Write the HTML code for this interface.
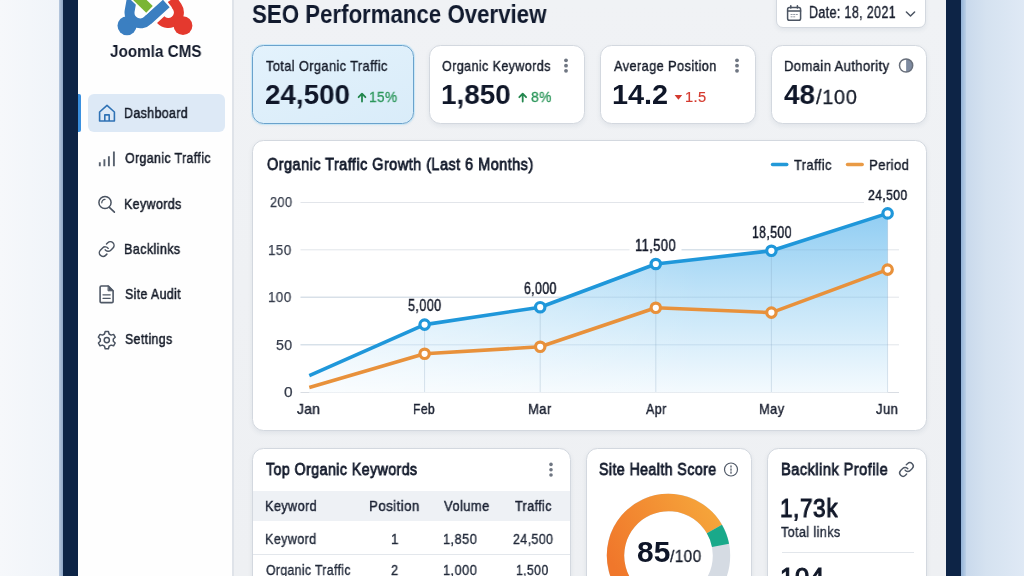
<!DOCTYPE html>
<html><head><meta charset="utf-8"><title>SEO Performance Overview</title>
<style>
html,body{margin:0;padding:0;}
body{width:1024px;height:576px;overflow:hidden;position:relative;font-family:"Liberation Sans",sans-serif;background:#eef3f9;}
.abs{position:absolute;}
.t{position:absolute;white-space:nowrap;line-height:1;transform-origin:0 0;will-change:transform;}
#bgl{left:0;top:0;width:59px;height:576px;background:linear-gradient(90deg,#f6f8fb,#f0f4f9);}
#stl{left:59px;top:0;width:4px;height:576px;background:linear-gradient(90deg,#b7c8de,#8ea6c6);}
#navl{left:63px;top:0;width:15px;height:576px;background:#0d2446;}
#side{left:78px;top:0;width:154px;height:576px;background:#fefefe;}
#sideb{left:232px;top:0;width:1.5px;height:576px;background:#dfe3e9;}
#content{left:233.5px;top:0;width:712.5px;height:576px;background:linear-gradient(180deg,#f0f2f5,#eef0f3);}
#navr{left:946px;top:0;width:15px;height:576px;background:#0d2446;}
#str{left:961px;top:0;width:4.5px;height:576px;background:linear-gradient(90deg,#93b2d6,#bcd0e7);}
#bgr{left:965.5px;top:0;width:58.5px;height:576px;background:linear-gradient(90deg,#c9d9ec,#d5e2f0 35%,#dfe9f5);}
#active{left:88px;top:94px;width:137px;height:37.5px;border-radius:6px;background:#dde9f6;}
#ind{left:78px;top:94px;width:3px;height:37.5px;background:#3a90df;border-radius:0 2px 2px 0;}
.card{position:absolute;background:#fff;border:1px solid #d3d8df;border-radius:11.5px;box-sizing:border-box;box-shadow:0 2px 5px rgba(30,50,90,0.07);}
#date{left:776px;top:-8px;width:150px;height:36px;border-radius:7px;}
#c1{left:252px;top:45px;width:161.5px;height:78.5px;background:linear-gradient(160deg,#e3f2fc,#d9ecf9);border:1.7px solid #6aa2cc;box-shadow:0 0 0 1px rgba(190,230,250,0.7),0 1px 3px rgba(30,50,90,0.07);}
#c2{left:429px;top:45px;width:155.5px;height:78.5px;}
#c3{left:600px;top:45px;width:156px;height:78.5px;}
#c4{left:771px;top:45px;width:156px;height:78.5px;}
#chart{left:252px;top:140px;width:675px;height:290.5px;}
#kw{left:252px;top:448px;width:318.5px;height:140px;}
#sh{left:586px;top:448px;width:165.5px;height:140px;}
#bl{left:767px;top:448px;width:160px;height:140px;}
#thead{left:253px;top:491px;width:316.5px;height:30px;background:#eef1f5;}
#rsep{left:253px;top:553.5px;width:316.5px;height:1px;background:#e3e7ec;}
#blsep{left:781.5px;top:552px;width:132px;height:1.2px;background:#e2e6eb;}
svg.ov{position:absolute;left:0;top:0;width:1024px;height:576px;overflow:visible;}

</style></head>
<body>
<div class="abs" id="bgl"></div><div class="abs" id="stl"></div><div class="abs" id="navl"></div>
<div class="abs" id="side"></div><div class="abs" id="sideb"></div><div class="abs" id="content"></div>
<div class="abs" id="navr"></div><div class="abs" id="str"></div><div class="abs" id="bgr"></div>
<div class="abs" id="active"></div><div class="abs" id="ind"></div>
<div class="card" id="date"></div>
<div class="card" id="c1"></div><div class="card" id="c2"></div><div class="card" id="c3"></div><div class="card" id="c4"></div>
<div class="card" id="chart"></div>
<div class="card" id="kw"></div><div class="card" id="sh"></div><div class="card" id="bl"></div>
<div class="abs" id="thead"></div><div class="abs" id="rsep"></div><div class="abs" id="blsep"></div>
<svg class="ov" viewBox="0 0 1024 576">
<defs>
<linearGradient id="fillg" x1="0" y1="205" x2="0" y2="392.5" gradientUnits="userSpaceOnUse">
<stop offset="0" stop-color="#8ccbf2"/><stop offset="0.5" stop-color="#c2e4f8"/><stop offset="1" stop-color="#f4fafe"/>
</linearGradient>
<linearGradient id="fadeg" x1="309" y1="0" x2="700" y2="0" gradientUnits="userSpaceOnUse">
<stop offset="0" stop-color="#fff" stop-opacity="0.55"/><stop offset="1" stop-color="#fff" stop-opacity="0"/>
</linearGradient>
<linearGradient id="ringg" x1="610" y1="560" x2="720" y2="500" gradientUnits="userSpaceOnUse">
<stop offset="0" stop-color="#f0772b"/><stop offset="1" stop-color="#f6a93c"/>
</linearGradient>
</defs>
<!-- logo -->
<g fill="none" stroke-linecap="butt">
 <path d="M171.9 -0.8 L177.1 6.58 A10.5 10.5 0 0 1 160.7 19.6" stroke="#e4392e" stroke-width="10"/>
 <circle cx="183" cy="25.7" r="9.4" fill="#e4392e"/>
 <path d="M131.8 -1.1 L129.7 10.7 A10.7 10.7 0 0 0 147.8 20.2 L167.5 2.4" stroke="#fff" stroke-width="13"/>
 <circle cx="127" cy="25.8" r="9.5" fill="#3b7fc1"/>
 <path d="M131.8 -1.1 L129.7 10.7 A10.7 10.7 0 0 0 147.8 20.2 L166.3 3.5" stroke="#3b7fc1" stroke-width="10"/>
 <path d="M135.1 -4.6 L150.6 10.3" stroke="#fff" stroke-width="12.4"/>
 <path d="M135.1 -4.6 L149.5 9.3" stroke="#7ab535" stroke-width="9.4"/>
</g>
<!-- sidebar icons -->
<g fill="none" stroke-linecap="round" stroke-linejoin="round">
 <path d="M99.6 112 L107 105.4 L114.4 112 V121 H99.6 Z M104.8 121 V114.9 H109.2 V121" stroke="#2f72b5" stroke-width="1.6"/>
 <path d="M99.8 162.2 V166.2 M104.4 159.2 V166.2 M108.9 156.3 V166.2 M113.9 151.5 V166.2" stroke="#59626f" stroke-width="1.9" stroke-linecap="butt"/>
 <circle cx="105" cy="202.5" r="6.1" stroke="#4a5361" stroke-width="1.5"/>
 <path d="M109.6 207.6 L114.4 212.2" stroke="#4a5361" stroke-width="1.6"/>
 <path d="M101.8 202.8 A3.3 3.3 0 0 1 105 199.4" stroke="#4a5361" stroke-width="1.2"/>
 <g transform="translate(97.8,240.2) scale(0.74)" stroke="#4a5361" stroke-width="2">
  <path d="M10 13a5 5 0 0 0 7.54.54l3-3a5 5 0 0 0-7.07-7.07l-1.72 1.71"/>
  <path d="M14 11a5 5 0 0 0-7.54-.54l-3 3a5 5 0 0 0 7.07 7.07l1.71-1.71"/>
 </g>
 <path d="M101.3 286 H108.4 L113.1 290.8 V301.4 Q113.1 302.6 111.9 302.6 H101.3 Q100.1 302.6 100.1 301.4 V287.2 Q100.1 286 101.3 286 Z" stroke="#4f5866" stroke-width="1.6"/>
 <path d="M108.4 286 L113.1 290.8 H108.4 Z" fill="#4f5866" stroke="#4f5866" stroke-width="1"/>
 <path d="M103 294.8 H110.2 M103 298.3 H110.2" stroke="#4f5866" stroke-width="1.3"/>
 <g transform="translate(106.8,339.6)" stroke="#4a5361" stroke-width="1.5">
  <path id="gear" d="M-1.6 -8.2 H1.6 L2.3 -5.6 L4.3 -4.5 L6.8 -5.2 L8.4 -2.4 L6.5 -0.6 V1.6 L8.4 3.4 L6.8 6.2 L4.3 5.5 L2.3 6.6 L1.6 9.2 H-1.6 L-2.3 6.6 L-4.3 5.5 L-6.8 6.2 L-8.4 3.4 L-6.5 1.6 V-0.6 L-8.4 -2.4 L-6.8 -5.2 L-4.3 -4.5 L-2.3 -5.6 Z"/>
  <circle cx="0" cy="0.5" r="2.6"/>
 </g>
</g>
<!-- header icons -->
<g fill="none" stroke="#4b5462" stroke-linecap="round" stroke-linejoin="round">
 <rect x="787.6" y="7.6" width="13" height="12.6" rx="1.8" stroke-width="1.5"/>
 <path d="M787.6 11 H800.6" stroke-width="1.5"/>
 <path d="M790.8 5.9 V8 M797.4 5.9 V8" stroke-width="1.6"/>
 <path d="M791 14.5 h1.2 M793.6 14.5 h1.2 M796.2 14.5 h1.2 M791 16.8 h1.2 M793.6 16.8 h1.2" stroke-width="0.9" stroke="#8a919c"/>
 <path d="M906.4 12 L910.5 16 L914.6 12" stroke-width="1.5"/>
</g>
<!-- card icons -->
<g fill="#6f7682">
 <circle cx="566" cy="60.3" r="1.9"/><circle cx="566" cy="65.7" r="1.9"/><circle cx="566" cy="70.8" r="1.9"/>
 <circle cx="737" cy="60.3" r="1.9"/><circle cx="737" cy="65.7" r="1.9"/><circle cx="737" cy="70.8" r="1.9"/>
 <circle cx="551" cy="464.4" r="1.8"/><circle cx="551" cy="469.8" r="1.8"/><circle cx="551" cy="475" r="1.8"/>
</g>
<path d="M906.1 58.9 A6.6 6.6 0 0 1 906.1 72.1 Z" fill="#7e8ba1"/>
<circle cx="906.1" cy="65.5" r="6.6" fill="none" stroke="#686f7b" stroke-width="1.5"/>
<g fill="none" stroke="#23874e" stroke-width="1.8" stroke-linecap="round" stroke-linejoin="round">
 <path d="M362 101.6 V93.8 M358.6 97.2 L362 93.6 L365.4 97.2"/>
 <path d="M522.7 101.6 V93.8 M519.3 97.2 L522.7 93.6 L526.1 97.2"/>
</g>
<path d="M674.6 95 H682.2 L678.4 99.8 Z" fill="#d43a2f"/>
<!-- chart -->
<g stroke="#e2e5ea" stroke-width="1">
 <path d="M300.5 202.5 H899 M300.5 249.8 H899 M300.5 297.2 H899 M300.5 344.8 H899"/>
 <path d="M300.5 392.5 H899" stroke="#d9dde3"/>
</g>
<polygon points="309.3,375.6 424.6,324.6 540.2,307.2 655.8,264 771.4,250.8 887.6,213.4 887.6,392.5 309.3,392.5" fill="url(#fillg)"/>
<polygon points="309.3,375.6 424.6,324.6 540.2,307.2 655.8,264 771.4,250.8 887.6,213.4 887.6,392.5 309.3,392.5" fill="url(#fadeg)"/>
<g stroke-width="1" fill="none">
 <path d="M655.8 249.8 H887.6 M300.5 297.2 H887.6 M300.5 344.8 H887.6" stroke="#7aa3c4" stroke-opacity="0.24"/>
 <path d="M424.6 324.6 V392 M540.2 307.2 V392 M655.8 264 V392 M771.4 250.8 V392 M887.6 213.4 V392" stroke="#7d9fba" stroke-opacity="0.28"/>
</g>
<rect x="629.5" y="238" width="52" height="16" fill="#fff"/>
<rect x="864" y="188" width="46" height="16" fill="#fff"/>
<polyline points="309.3,375.6 424.6,324.6 540.2,307.2 655.8,264 771.4,250.8 887.6,213.4" fill="none" stroke="#1f97da" stroke-width="3.6" stroke-linejoin="round"/>
<polyline points="309.3,387.4 424.6,353.8 540.2,346.8 655.8,307.8 771.4,312.6 887.6,269.6" fill="none" stroke="#e8913b" stroke-width="3.6" stroke-linejoin="round"/>
<g fill="#fff" stroke="#1f97da" stroke-width="3.2">
 <circle cx="424.6" cy="324.6" r="4.7"/><circle cx="540.2" cy="307.2" r="4.7"/><circle cx="655.8" cy="264" r="4.7"/><circle cx="771.4" cy="250.8" r="4.7"/><circle cx="887.6" cy="213.4" r="4.7"/>
</g>
<g fill="#fff" stroke="#e8913b" stroke-width="3.2">
 <circle cx="424.6" cy="353.8" r="4.7"/><circle cx="540.2" cy="346.8" r="4.7"/><circle cx="655.8" cy="307.8" r="4.7"/><circle cx="771.4" cy="312.6" r="4.7"/><circle cx="887.6" cy="269.6" r="4.7"/>
</g>
<path d="M772.5 164.5 H786.8" stroke="#2299d8" stroke-width="3.4" stroke-linecap="round"/>
<path d="M847.5 164.5 H862.2" stroke="#e99a45" stroke-width="3.4" stroke-linecap="round"/>
<!-- site health -->
<circle cx="731" cy="469.5" r="6.5" fill="none" stroke="#525b69" stroke-width="1.2"/>
<path d="M731 466 V467 M731 469 V470.2 M731 472 V473.2" stroke="#4f5866" stroke-width="1.3" stroke-linecap="round"/>
<g fill="none" stroke-width="17.4">
 <circle cx="668.5" cy="555.5" r="53" stroke="#d5dbe3"/>
 <path d="M650.37 605.30 A53 53 0 1 1 714.40 529.00" stroke="url(#ringg)"/>
 <path d="M714.40 529.00 A53 53 0 0 1 720.53 545.39" stroke="#19a98a"/>
</g>
<!-- backlink icon -->
<g transform="translate(898.3,461.3) scale(0.68)" fill="none" stroke="#4f5866" stroke-width="2.1" stroke-linecap="round" stroke-linejoin="round">
  <path d="M10 13a5 5 0 0 0 7.54.54l3-3a5 5 0 0 0-7.07-7.07l-1.72 1.71"/>
  <path d="M14 11a5 5 0 0 0-7.54-.54l-3 3a5 5 0 0 0 7.07 7.07l1.71-1.71"/>
</g>
</svg>

<span id="logo_t" class="t" style="left:109.98px;top:43.82px;font-size:16.86px;font-weight:700;color:#141b2c;transform:scaleX(0.9038);">Joomla CMS</span>
<span id="side0" class="t" style="left:123.87px;top:105.75px;font-size:14.83px;font-weight:400;color:#161c29;transform:scaleX(0.8375);letter-spacing:0.44px;-webkit-text-stroke:0.5px #161c29;">Dashboard</span>
<span id="side1" class="t" style="left:125.36px;top:151.45px;font-size:14.83px;font-weight:400;color:#161c29;transform:scaleX(0.8359);letter-spacing:0.44px;-webkit-text-stroke:0.5px #161c29;">Organic Traffic</span>
<span id="side2" class="t" style="left:123.83px;top:196.95px;font-size:14.83px;font-weight:400;color:#161c29;transform:scaleX(0.8408);letter-spacing:0.44px;-webkit-text-stroke:0.5px #161c29;">Keywords</span>
<span id="side3" class="t" style="left:123.87px;top:241.82px;font-size:14.97px;font-weight:400;color:#161c29;transform:scaleX(0.8405);letter-spacing:0.45px;-webkit-text-stroke:0.5px #161c29;">Backlinks</span>
<span id="side4" class="t" style="left:125.08px;top:287.25px;font-size:14.83px;font-weight:400;color:#161c29;transform:scaleX(0.8347);letter-spacing:0.44px;-webkit-text-stroke:0.5px #161c29;">Site Audit</span>
<span id="side5" class="t" style="left:125.08px;top:332.05px;font-size:14.83px;font-weight:400;color:#161c29;transform:scaleX(0.8331);letter-spacing:0.44px;-webkit-text-stroke:0.5px #161c29;">Settings</span>
<span id="title" class="t" style="left:251.72px;top:0.55px;font-size:26.16px;font-weight:700;color:#111a2e;transform:scaleX(0.8509);">SEO Performance Overview</span>
<span id="datet" class="t" style="left:808.58px;top:5.27px;font-size:15.92px;font-weight:400;color:#1b2130;transform:scaleX(0.7833);letter-spacing:0.48px;-webkit-text-stroke:0.4px #1b2130;">Date: 18, 2021</span>
<span id="lab0" class="t" style="left:265.78px;top:57.90px;font-size:15.12px;font-weight:400;color:#161c2a;transform:scaleX(0.8484);letter-spacing:0.45px;-webkit-text-stroke:0.4px #161c2a;">Total Organic Traffic</span>
<span id="lab1" class="t" style="left:442.02px;top:57.90px;font-size:15.12px;font-weight:400;color:#161c2a;transform:scaleX(0.8328);letter-spacing:0.45px;-webkit-text-stroke:0.4px #161c2a;">Organic Keywords</span>
<span id="lab2" class="t" style="left:613.56px;top:57.90px;font-size:15.12px;font-weight:400;color:#161c2a;transform:scaleX(0.8479);letter-spacing:0.45px;-webkit-text-stroke:0.4px #161c2a;">Average Position</span>
<span id="lab3" class="t" style="left:783.62px;top:57.90px;font-size:15.12px;font-weight:400;color:#161c2a;transform:scaleX(0.8631);letter-spacing:0.45px;-webkit-text-stroke:0.4px #161c2a;">Domain Authority</span>
<span id="num0" class="t" style="left:264.82px;top:80.30px;font-size:28.34px;font-weight:700;color:#0f1628;transform:scaleX(0.9794);">24,500</span>
<span id="num1" class="t" style="left:441.45px;top:80.30px;font-size:28.34px;font-weight:700;color:#0f1628;transform:scaleX(0.9811);">1,850</span>
<span id="num2" class="t" style="left:612.38px;top:80.30px;font-size:28.34px;font-weight:700;color:#0f1628;transform:scaleX(1.0185);">14.2</span>
<span id="num3" class="t" style="left:784.04px;top:80.30px;font-size:28.34px;font-weight:700;color:#0f1628;transform:scaleX(0.9835);">48</span>
<span id="num100" class="t" style="left:816.12px;top:86.46px;font-size:21.08px;font-weight:400;color:#161c2a;transform:scaleX(0.9523);letter-spacing:0.63px;-webkit-text-stroke:0.3px #161c2a;">/100</span>
<span id="pct0" class="t" style="left:369.09px;top:89.99px;font-size:14.54px;font-weight:400;color:#2b965a;transform:scaleX(0.9391);letter-spacing:0.44px;-webkit-text-stroke:0.3px #2b965a;">15%</span>
<span id="pct1" class="t" style="left:530.65px;top:89.99px;font-size:14.54px;font-weight:400;color:#2b965a;transform:scaleX(0.9555);letter-spacing:0.44px;-webkit-text-stroke:0.3px #2b965a;">8%</span>
<span id="pct2" class="t" style="left:685.11px;top:89.99px;font-size:14.54px;font-weight:400;color:#d43a2f;transform:scaleX(1.0076);letter-spacing:0.44px;-webkit-text-stroke:0.2px #d43a2f;">1.5</span>
<span id="ctitle" class="t" style="left:266.90px;top:155.78px;font-size:17.15px;font-weight:400;color:#141b2c;transform:scaleX(0.8481);letter-spacing:0.51px;-webkit-text-stroke:0.8px #141b2c;">Organic Traffic Growth (Last 6 Months)</span>
<span id="leg0" class="t" style="left:794.48px;top:156.60px;font-size:15.12px;font-weight:400;color:#161c2a;transform:scaleX(0.8548);letter-spacing:0.45px;-webkit-text-stroke:0.4px #161c2a;">Traffic</span>
<span id="leg1" class="t" style="left:868.63px;top:156.60px;font-size:15.12px;font-weight:400;color:#161c2a;transform:scaleX(0.8702);letter-spacing:0.45px;-webkit-text-stroke:0.4px #161c2a;">Period</span>
<span id="y0" class="t" style="left:269.73px;top:195.34px;font-size:14.24px;font-weight:400;color:#353c4b;transform:scaleX(0.8955);letter-spacing:0.43px;-webkit-text-stroke:0.25px #353c4b;">200</span>
<span id="y1" class="t" style="left:268.31px;top:242.64px;font-size:14.24px;font-weight:400;color:#353c4b;transform:scaleX(0.9401);letter-spacing:0.43px;-webkit-text-stroke:0.25px #353c4b;">150</span>
<span id="y2" class="t" style="left:268.31px;top:290.04px;font-size:14.24px;font-weight:400;color:#353c4b;transform:scaleX(0.9401);letter-spacing:0.43px;-webkit-text-stroke:0.25px #353c4b;">100</span>
<span id="y3" class="t" style="left:275.77px;top:337.64px;font-size:14.24px;font-weight:400;color:#353c4b;transform:scaleX(0.9921);letter-spacing:0.43px;-webkit-text-stroke:0.25px #353c4b;">50</span>
<span id="y4" class="t" style="left:283.78px;top:385.34px;font-size:14.24px;font-weight:400;color:#353c4b;transform:scaleX(1.0863);letter-spacing:0.43px;-webkit-text-stroke:0.25px #353c4b;">0</span>
<span id="m0" class="t" style="left:297.30px;top:401.20px;font-size:15.12px;font-weight:400;color:#1b2131;transform:scaleX(0.9080);letter-spacing:0.45px;-webkit-text-stroke:0.4px #1b2131;">Jan</span>
<span id="m1" class="t" style="left:413.30px;top:401.20px;font-size:15.12px;font-weight:400;color:#1b2131;transform:scaleX(0.8048);letter-spacing:0.45px;-webkit-text-stroke:0.4px #1b2131;">Feb</span>
<span id="m2" class="t" style="left:527.59px;top:401.20px;font-size:15.12px;font-weight:400;color:#1b2131;transform:scaleX(0.8616);letter-spacing:0.45px;-webkit-text-stroke:0.4px #1b2131;">Mar</span>
<span id="m3" class="t" style="left:645.92px;top:401.20px;font-size:15.12px;font-weight:400;color:#1b2131;transform:scaleX(0.8292);letter-spacing:0.45px;-webkit-text-stroke:0.4px #1b2131;">Apr</span>
<span id="m4" class="t" style="left:758.59px;top:401.20px;font-size:15.12px;font-weight:400;color:#1b2131;transform:scaleX(0.8504);letter-spacing:0.45px;-webkit-text-stroke:0.4px #1b2131;">May</span>
<span id="m5" class="t" style="left:876.30px;top:401.20px;font-size:15.12px;font-weight:400;color:#1b2131;transform:scaleX(0.8672);letter-spacing:0.45px;-webkit-text-stroke:0.4px #1b2131;">Jun</span>
<span id="pl0" class="t" style="left:408.38px;top:298.46px;font-size:15.99px;font-weight:400;color:#141a2a;transform:scaleX(0.7905);letter-spacing:0.48px;-webkit-text-stroke:0.45px #141a2a;">5,000</span>
<span id="pl1" class="t" style="left:523.98px;top:281.06px;font-size:15.99px;font-weight:400;color:#141a2a;transform:scaleX(0.7723);letter-spacing:0.48px;-webkit-text-stroke:0.45px #141a2a;">6,000</span>
<span id="pl2" class="t" style="left:635.47px;top:238.11px;font-size:15.70px;font-weight:400;color:#141a2a;transform:scaleX(0.8256);letter-spacing:0.47px;-webkit-text-stroke:0.45px #141a2a;">11,500</span>
<span id="pl3" class="t" style="left:751.62px;top:224.66px;font-size:15.99px;font-weight:400;color:#141a2a;transform:scaleX(0.7686);letter-spacing:0.48px;-webkit-text-stroke:0.45px #141a2a;">18,500</span>
<span id="pl4" class="t" style="left:868.04px;top:188.29px;font-size:14.54px;font-weight:400;color:#141a2a;transform:scaleX(0.8411);letter-spacing:0.44px;-webkit-text-stroke:0.45px #141a2a;">24,500</span>
<span id="kwt" class="t" style="left:265.90px;top:461.67px;font-size:16.57px;font-weight:400;color:#141b2c;transform:scaleX(0.8579);letter-spacing:0.50px;-webkit-text-stroke:0.8px #141b2c;">Top Organic Keywords</span>
<span id="sht" class="t" style="left:599.04px;top:461.67px;font-size:16.57px;font-weight:400;color:#141b2c;transform:scaleX(0.8553);letter-spacing:0.50px;-webkit-text-stroke:0.8px #141b2c;">Site Health Score</span>
<span id="blt" class="t" style="left:780.96px;top:461.67px;font-size:16.57px;font-weight:400;color:#141b2c;transform:scaleX(0.8845);letter-spacing:0.50px;-webkit-text-stroke:0.8px #141b2c;">Backlink Profile</span>
<span id="th0" class="t" style="left:264.77px;top:499.07px;font-size:14.68px;font-weight:400;color:#1c2334;transform:scaleX(0.8658);letter-spacing:0.44px;-webkit-text-stroke:0.45px #1c2334;">Keyword</span>
<span id="th1" class="t" style="left:369.39px;top:499.07px;font-size:14.68px;font-weight:400;color:#1c2334;transform:scaleX(0.9116);letter-spacing:0.44px;-webkit-text-stroke:0.45px #1c2334;">Position</span>
<span id="th2" class="t" style="left:443.52px;top:499.07px;font-size:14.68px;font-weight:400;color:#1c2334;transform:scaleX(0.8852);letter-spacing:0.44px;-webkit-text-stroke:0.45px #1c2334;">Volume</span>
<span id="th3" class="t" style="left:514.58px;top:499.07px;font-size:14.68px;font-weight:400;color:#1c2334;transform:scaleX(0.8576);letter-spacing:0.44px;-webkit-text-stroke:0.45px #1c2334;">Traffic</span>
<span id="r0" class="t" style="left:264.74px;top:531.54px;font-size:14.24px;font-weight:400;color:#222a3a;transform:scaleX(0.8842);letter-spacing:0.43px;-webkit-text-stroke:0.35px #222a3a;">Keyword</span>
<span id="r1" class="t" style="left:390.79px;top:531.54px;font-size:14.24px;font-weight:400;color:#222a3a;transform:scaleX(0.9379);letter-spacing:0.43px;-webkit-text-stroke:0.35px #222a3a;">1</span>
<span id="r2" class="t" style="left:443.21px;top:531.54px;font-size:14.24px;font-weight:400;color:#222a3a;transform:scaleX(0.9058);letter-spacing:0.43px;-webkit-text-stroke:0.35px #222a3a;">1,850</span>
<span id="r3" class="t" style="left:512.70px;top:531.54px;font-size:14.24px;font-weight:400;color:#222a3a;transform:scaleX(0.8750);letter-spacing:0.43px;-webkit-text-stroke:0.35px #222a3a;">24,500</span>
<span id="s0" class="t" style="left:266.14px;top:563.34px;font-size:14.24px;font-weight:400;color:#222a3a;transform:scaleX(0.8595);letter-spacing:0.43px;-webkit-text-stroke:0.35px #222a3a;">Organic Traffic</span>
<span id="s1" class="t" style="left:390.71px;top:563.34px;font-size:14.24px;font-weight:400;color:#222a3a;transform:scaleX(0.8971);letter-spacing:0.43px;-webkit-text-stroke:0.35px #222a3a;">2</span>
<span id="s2" class="t" style="left:443.21px;top:563.34px;font-size:14.24px;font-weight:400;color:#222a3a;transform:scaleX(0.9058);letter-spacing:0.43px;-webkit-text-stroke:0.35px #222a3a;">1,000</span>
<span id="s3" class="t" style="left:516.26px;top:563.34px;font-size:14.24px;font-weight:400;color:#222a3a;transform:scaleX(0.8618);letter-spacing:0.43px;-webkit-text-stroke:0.35px #222a3a;">1,500</span>
<span id="h85" class="t" style="left:636.82px;top:538.29px;font-size:29.07px;font-weight:700;color:#0f1628;transform:scaleX(1.0290);">85</span>
<span id="h100" class="t" style="left:670.46px;top:549.46px;font-size:15.99px;font-weight:400;color:#161c2a;transform:scaleX(0.9556);letter-spacing:0.48px;-webkit-text-stroke:0.3px #161c2a;">/100</span>
<span id="bl1" class="t" style="left:780.12px;top:495.66px;font-size:24.86px;font-weight:400;color:#111829;transform:scaleX(0.8999);letter-spacing:0.75px;-webkit-text-stroke:1.1px #111829;">1,73k</span>
<span id="bl2" class="t" style="left:781.22px;top:524.65px;font-size:14.83px;font-weight:400;color:#1c2334;transform:scaleX(0.8525);letter-spacing:0.44px;-webkit-text-stroke:0.35px #222a3a;">Total links</span>
<span id="bl3" class="t" style="left:780.15px;top:565.06px;font-size:24.86px;font-weight:400;color:#111829;transform:scaleX(1.0254);letter-spacing:0.75px;-webkit-text-stroke:1.1px #111829;">104</span>
</body></html>
